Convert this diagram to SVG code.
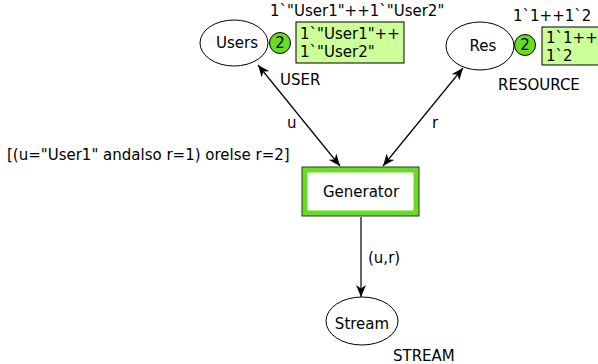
<svg xmlns="http://www.w3.org/2000/svg" width="598" height="364" viewBox="0 0 598 364">
  <style>
    text { font-family: "DejaVu Sans", Verdana, sans-serif; font-size: 15px; fill: #000; }
    .place { fill: #fff; stroke: #000; stroke-width: 1; }
    .token { fill: #66dd22; stroke: #000; stroke-width: 1; }
    .marking { fill: #ccff99; stroke: #000; stroke-width: 1; }
    .arc { fill: none; stroke: #000; stroke-width: 1.2; }
    .mid { text-anchor: middle; }
  </style>
  <defs>
    <marker id="head" viewBox="0 0 12 10" refX="12" refY="5" markerWidth="12" markerHeight="10" markerUnits="userSpaceOnUse" orient="auto-start-reverse">
      <path d="M0,0 L12,5 L0,10 L3.5,5 z" fill="#000"/>
    </marker>
    <clipPath id="clipUsers"><rect x="296" y="22" width="108" height="41"/></clipPath>
    <clipPath id="clipRes"><rect x="542" y="27" width="60" height="38"/></clipPath>
  </defs>

  <g id="connectors">
    <line class="arc" x1="258" y1="65" x2="340" y2="166" marker-start="url(#head)" marker-end="url(#head)"/>
    <line class="arc" x1="463" y1="68" x2="383" y2="166" marker-start="url(#head)" marker-end="url(#head)"/>
    <line class="arc" x1="361" y1="217" x2="361" y2="297" marker-end="url(#head)"/>
    <text x="287" y="128">u</text>
    <text x="432" y="128">r</text>
    <text x="368" y="263">(u,r)</text>
  </g>

  <g id="Users">
    <ellipse class="place" cx="234" cy="43" rx="34" ry="23"/>
    <text class="mid" x="237" y="48">Users</text>
    <text x="280" y="85">USER</text>
    <text x="270" y="16">1`"User1"++1`"User2"</text>
    <circle class="token" cx="280" cy="43" r="10.5"/>
    <text class="mid" x="280" y="48">2</text>
    <rect class="marking" x="296" y="22" width="108" height="41"/>
    <g clip-path="url(#clipUsers)">
      <text x="300" y="39">1`"User1"++</text>
      <text x="300" y="57">1`"User2"</text>
    </g>
  </g>

  <g id="Res">
    <ellipse class="place" cx="480" cy="46" rx="34" ry="24"/>
    <text class="mid" x="483" y="51">Res</text>
    <text x="498" y="90">RESOURCE</text>
    <text x="513" y="21">1`1++1`2</text>
    <circle class="token" cx="525" cy="45" r="10.5"/>
    <text class="mid" x="525" y="50">2</text>
    <rect class="marking" x="542" y="27" width="60" height="38"/>
    <g clip-path="url(#clipRes)">
      <text x="546" y="43">1`1++</text>
      <text x="546" y="61">1`2</text>
    </g>
  </g>

  <g id="Generator">
    <rect x="302" y="167" width="117" height="49" fill="#66dd22" stroke="#333" stroke-width="1"/>
    <rect x="307.5" y="172.5" width="106" height="38" fill="#fff"/>
    <text class="mid" x="361" y="197">Generator</text>
    <text x="7" y="160">[(u="User1" andalso r=1) orelse r=2]</text>
  </g>

  <g id="Stream">
    <ellipse class="place" cx="362" cy="321" rx="36" ry="24"/>
    <text class="mid" x="362" y="329">Stream</text>
    <text x="393" y="361">STREAM</text>
  </g>
</svg>
